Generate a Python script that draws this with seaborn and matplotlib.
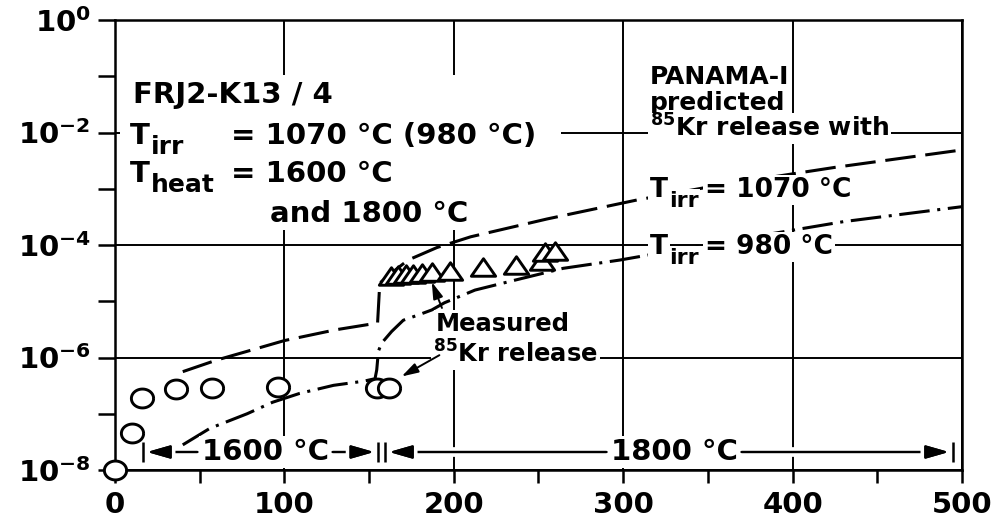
import numpy as np
import matplotlib
matplotlib.use("Agg")
import matplotlib.pyplot as plt
import matplotlib.patheffects as pe
from matplotlib.patches import Rectangle, ArrowStyle
from matplotlib.path import Path
from matplotlib.ticker import FixedLocator, FixedFormatter, NullFormatter
import seaborn as sns

# ---- measured fractional 85Kr release vs. heating time (h) ----
circle_time = [0, 10, 16, 36, 57, 96, 154.5, 162]
circle_release = [1.0e-8, 4.5e-8, 1.9e-7, 2.8e-7, 2.9e-7, 3.0e-7, 2.9e-7, 2.9e-7]

triangle_time = [163, 167, 172, 176, 181, 187, 198, 217, 237, 252, 254, 260]
triangle_release = [2.8e-5, 2.9e-5, 3.0e-5, 3.1e-5, 3.2e-5, 3.3e-5, 3.4e-5,
                    4.1e-5, 4.4e-5, 5.1e-5, 7.4e-5, 7.8e-5]

# ---- PANAMA-I predicted release ----
pred1070_time = [40, 60, 80, 100, 130, 155, 156.3, 165, 173, 190, 210, 255,
                 308, 350, 400, 425, 500]
pred1070_release = [5.6e-7, 9.0e-7, 1.34e-6, 2.0e-6, 3.1e-6, 4.1e-6, 2.1e-5,
                    3.5e-5, 5.4e-5, 9.0e-5, 1.4e-4, 2.9e-4, 6.3e-4, 1.07e-3,
                    1.84e-3, 2.4e-3, 4.9e-3]

pred980_time = [40, 56, 78, 93, 109, 129, 147, 153.5, 154.5, 155.5, 157.4,
                163.3, 170.2, 179, 187, 194.5, 212.5, 238, 264.6, 298, 360,
                430, 500]
pred980_release = [2.8e-8, 5.5e-8, 1.0e-7, 1.6e-7, 2.3e-7, 3.2e-7, 3.8e-7,
                   4.2e-7, 6.0e-7, 1.3e-6, 1.8e-6, 2.9e-6, 4.6e-6, 5.7e-6,
                   7.0e-6, 9.4e-6, 1.58e-5, 2.45e-5, 3.85e-5, 5.4e-5, 1.15e-4,
                   2.6e-4, 4.8e-4]

# ---- axes ticks ----
x_ticks = [0, 100, 200, 300, 400, 500]
x_tick_labels = ["0", "100", "200", "300", "400", "500"]
x_minor = [50, 150, 250, 350, 450]
y_ticks = [1e-8, 1e-6, 1e-4, 1e-2, 1e0]
y_tick_labels = [r"$\mathbf{10^{-8}}$", r"$\mathbf{10^{-6}}$",
                 r"$\mathbf{10^{-4}}$", r"$\mathbf{10^{-2}}$",
                 r"$\mathbf{10^{0}}$"]
y_minor = [1e-7, 1e-5, 1e-3, 1e-1]

# ---- heating phases (h) ----
phase_bounds = [16.5, 155.4, 159.4, 494.7]
phase_labels = ["1600 °C", "1800 °C"]

# pointer arrows from the "Measured" note to the data
pointer_tail = [(193, 7.6e-6), (191.5, 1.1e-6)]
pointer_head = [(187, 2.2e-5), (169.2, 4.6e-7)]

sns.set_theme(style="ticks")
plt.rcParams.update({
    "font.family": ["DejaVu Sans"],
    "font.weight": "bold",
    "mathtext.fontset": "dejavusans",
    "text.color": "black",
    "axes.labelcolor": "black",
    "axes.edgecolor": "black",
    "axes.linewidth": 1.8,
    "xtick.color": "black",
    "ytick.color": "black",
    "xtick.labelcolor": "black",
    "ytick.labelcolor": "black",
})

fig = plt.figure(figsize=(10.03, 5.23), dpi=100)
ax = fig.add_axes([115 / 1003, 53 / 523, 847 / 1003, 450 / 523])
ax.set_yscale("log")

lw = 2.2
sns.lineplot(x=pred1070_time, y=pred1070_release, ax=ax, color="black",
             lw=lw, estimator=None, sort=False,
             linestyle=(0, (10, 3.2)), zorder=3)
sns.lineplot(x=pred980_time, y=pred980_release, ax=ax, color="black",
             lw=lw, estimator=None, sort=False,
             linestyle=(0, (10, 2.5, 1.0, 2.5)), zorder=3)

theta = np.linspace(0, 2 * np.pi, 73)
ellipse = Path(np.column_stack([np.cos(theta), 0.85 * np.sin(theta)]))
triangle = Path([(-1, -0.72), (1, -0.72), (0, 0.72), (-1, -0.72)],
                closed=True)

sns.scatterplot(x=circle_time, y=circle_release, ax=ax, marker=ellipse,
                s=16 ** 2, color="white", edgecolor="black", linewidth=2.1,
                zorder=5, clip_on=False, legend=False)
sns.scatterplot(x=triangle_time, y=triangle_release, ax=ax, marker=triangle,
                s=17.5 ** 2, color="white", edgecolor="black", linewidth=2.1,
                zorder=5, clip_on=False, legend=False)

ax.set_xlim(0, 500)
ax.set_ylim(1e-8, 1)
ax.xaxis.set_major_locator(FixedLocator(x_ticks))
ax.xaxis.set_major_formatter(FixedFormatter(x_tick_labels))
ax.xaxis.set_minor_locator(FixedLocator(x_minor))
ax.yaxis.set_major_locator(FixedLocator(y_ticks))
ax.yaxis.set_major_formatter(FixedFormatter(y_tick_labels))
ax.yaxis.set_minor_locator(FixedLocator(y_minor))
ax.yaxis.set_minor_formatter(NullFormatter())
ax.tick_params(axis="x", which="both", direction="out", length=9, width=1.8,
               labelsize=21, pad=6, colors="black")
ax.tick_params(axis="y", which="both", direction="out", length=12.5,
               width=1.8, labelsize=21, pad=5, colors="black")
for lab in ax.get_xticklabels():
    lab.set_fontweight("bold")
for sp in ax.spines.values():
    sp.set_visible(True)
    sp.set_color("black")
    sp.set_linewidth(1.8)
ax.grid(True, which="major", color="black", lw=1.4)
ax.set_axisbelow(True)
ax.set_xlabel("")
ax.set_ylabel("")

box = dict(boxstyle="square,pad=0.08", fc="white", ec="none")


def note(x, y, s, size, **kw):
    return ax.text(x, y, s, transform=ax.transAxes, fontsize=size,
                   fontweight="bold", va="baseline", ha="left", bbox=box,
                   color="black", zorder=6, **kw)


def subscript(base, s, size):
    return ax.annotate(s, xy=(1, 0), xycoords=base, xytext=(0.5, -3),
                       textcoords="offset points", fontsize=size,
                       fontweight="bold", va="baseline", ha="left",
                       color="black", bbox=box, zorder=6)


def trailing(sub, base, s, size):
    return ax.annotate(s, xy=(1, 0), xycoords=(sub, base), xytext=(5, 0),
                       textcoords="offset points", fontsize=size,
                       fontweight="bold", va="bottom", ha="left",
                       color="black", bbox=box, zorder=6)


# white panel behind the sample description
ax.add_patch(Rectangle((0.006, 0.538), 0.52, 0.34, transform=ax.transAxes,
                       fc="white", ec="none", zorder=1))
note(0.0213, 0.8156, "FRJ2-K13 / 4", 21)
t_a = note(0.0177, 0.7244, "T", 21)
subscript(t_a, "irr", 18)
note(0.137, 0.7244, "= 1070 °C (980 °C)", 21)
t_b = note(0.0177, 0.64, "T", 21)
subscript(t_b, "heat", 18)
note(0.137, 0.64, "= 1600 °C", 21)
note(0.183, 0.551, "and 1800 °C", 21)

# model description
note(0.6316, 0.8578, "PANAMA-I", 18)
note(0.6316, 0.80, "predicted", 18)
note(0.6316, 0.74, r"$^{\mathbf{85}}$Kr release with", 18)
t_c = note(0.6316, 0.6067, "T", 19)
s_c = subscript(t_c, "irr", 16)
trailing(s_c, t_c, "= 1070 °C", 19)
t_d = note(0.6316, 0.48, "T", 19)
s_d = subscript(t_d, "irr", 16)
trailing(s_d, t_d, "= 980 °C", 19)

note(0.379, 0.309, "Measured", 17.5)
note(0.3754, 0.2378, r"$^{\mathbf{85}}$Kr release", 17.5)

small_head = ArrowStyle("-|>", head_length=1.0, head_width=0.3)
for tail, head in zip(pointer_tail, pointer_head):
    ax.annotate("", xy=head, xytext=tail,
                arrowprops=dict(arrowstyle=small_head, lw=1.4, color="black",
                                shrinkA=0, shrinkB=0, mutation_scale=10),
                zorder=6)

# heating-phase span arrows
arrow_y = 0.04
label_y = 0.0222
big_head = ArrowStyle("-|>", head_length=1.4, head_width=0.4)
t1600 = ax.text(0.1771, label_y, phase_labels[0], transform=ax.transAxes,
                fontsize=21, fontweight="bold", ha="center", va="baseline",
                color="black", bbox=box, zorder=6)
t1800 = ax.text(0.66, label_y, phase_labels[1], transform=ax.transAxes,
                fontsize=21, fontweight="bold", ha="center", va="baseline",
                color="black", bbox=box, zorder=6)
spans = [(t1600, 0, phase_bounds[0]), (t1600, 1, phase_bounds[1]),
         (t1800, 0, phase_bounds[2]), (t1800, 1, phase_bounds[3])]
for lab, side, xend in spans:
    ax.annotate("", xy=(xend, arrow_y), xycoords=("data", "axes fraction"),
                xytext=(side, arrow_y), textcoords=(lab, "axes fraction"),
                arrowprops=dict(arrowstyle=big_head, lw=1.6, color="black",
                                shrinkA=3, shrinkB=3, mutation_scale=10,
                                path_effects=[pe.withStroke(linewidth=7,
                                                            foreground="white"),
                                              pe.Normal()]),
                zorder=5)
ax.vlines(phase_bounds, 0.018, 0.062, transform=ax.get_xaxis_transform(),
          colors="black", lw=1.8, zorder=5)

fig.savefig("out.png", dpi=100)
